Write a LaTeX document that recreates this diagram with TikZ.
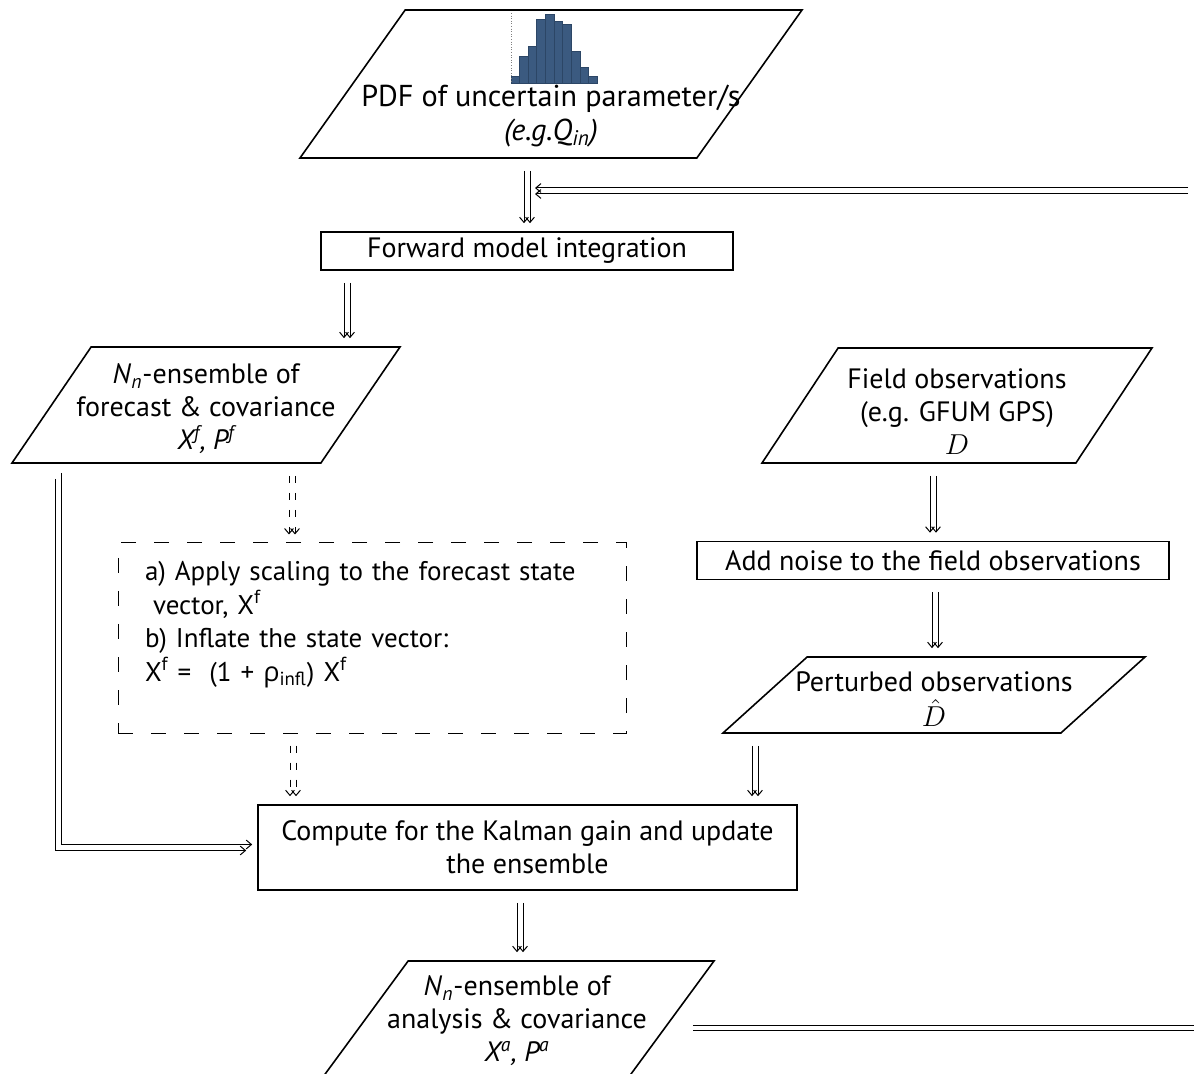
\documentclass[tikz,border=0pt]{standalone}
\usepackage{fontspec}
\setmainfont{PT Sans}
\newfontfamily\grkfont{Open Sans}
\usetikzlibrary{arrows.meta,positioning,shapes.geometric}
\definecolor{histbar}{HTML}{3B5A80}
\definecolor{histedge}{HTML}{2C4666}

\begin{document}
\begin{tikzpicture}[x=.5pt,y=-.5pt,font=\fontsize{14}{16.5}\selectfont,
box/.style={draw,line width=.8pt,minimum width=#1,minimum height=19pt,inner sep=2pt,align=center},
para/.style 2 args={trapezium,trapezium stretches body,trapezium left angle=#1,trapezium right angle=#2,draw,line width=.8pt,inner sep=1pt,text depth=0pt},
tip/.style={-{Straight Barb[length=2.6pt,width=4.4pt]},line width=.5pt,shorten <=6pt,shorten >=4pt},
dashlink/.style={dash pattern=on 3.5pt off 5pt},
twin/.style 2 args={preaction={draw,tip,transform canvas={xshift=-#1,yshift=-#2}},postaction={draw,tip,transform canvas={xshift=#1,yshift=#2}}},
dtwin/.style 2 args={preaction={draw,tip,dashlink,transform canvas={xshift=-#1,yshift=-#2}},postaction={draw,tip,dashlink,transform canvas={xshift=#1,yshift=#2}}},
pair/.style={draw,line width=.5pt,double distance=2.4pt}]
\clip (0,0) rectangle (1194,1074);

% input distribution
\node[para={54.6}{125.4},minimum width=251pt,text height=72pt] (pdf) at (551,84) {};
\foreach \h [count=\i from 0] in {76,56,46,19,14,21,24,51,67,76}
  \filldraw[fill=histbar,draw=histedge,line width=.2pt] (510.7+8.66*\i,83) rectangle ++(8.66,\h-83);
\draw[gray,densely dotted,line width=.3pt] (511,13) -- (511,83);
\node[align=center,font=\fontsize{15.1}{17}\selectfont] (pdftext) at (551,116) {PDF of uncertain parameter/s\\\textit{(e.g.Q\textsubscript{in})}};

\node[box=206pt] (fwd) at (527,251) {Forward model integration};

% ensemble and observations
\node[para={55.7}{124.3},minimum width=194pt,text height=56pt] (forecast) at (206,405) {};
\node[align=center] (forecasttext) at ([yshift=-2pt]forecast.center)
 {\textit{N}\textsubscript{\textit{n}}-ensemble of\\forecast \& covariance\\\textit{X\textsuperscript{f}, P\textsuperscript{f}}};
\node[para={56.5}{123.5},minimum width=195pt,text height=55.5pt] (field) at (957,405.5) {};
\node[align=center] (fieldtext) at ([yshift=-3pt]field.center) {Field observations\\(e.g. GFUM GPS)\\$D$};
\node[draw,dash pattern=on 7.5pt off 9pt,line width=.5pt,minimum height=95pt,inner xsep=13.5pt,text width=227pt,align=left,font=\fontsize{13.5}{16.8}\selectfont] (scaling) at (372,638)
 {a) Apply scaling to the forecast state\\\hspace{.3em}vector, X\textsuperscript{f}\\b) Inflate the state vector:\\X\textsuperscript{f} = \ (1 + {\grkfont ρ}\textsubscript{infl}) X\textsuperscript{f}\\~};
\node[box=236pt] (noise) at (933,560.5) {Add noise to the field observations};
\node[para={42.1}{137.9},minimum width=211pt,text height=36pt] (perturbed) at (934,695) {};
\node[align=center] (perturbedtext) at ([yshift=-2pt]perturbed.center) {Perturbed observations\\[1pt]$\hat{D}$};
\node[box=269.5pt,minimum height=42.5pt] (compute) at (527.5,847.5) {Compute for the Kalman gain and update\\the ensemble};
\node[para={53.7}{126.3},minimum width=197pt,text height=58pt] (analysis) at (517,1021) {};
\node[align=center] (analysistext) at (analysis.center)
 {\textit{N}\textsubscript{\textit{n}}-ensemble of\\analysis \& covariance\\\textit{X\textsuperscript{a}, P\textsuperscript{a}}};

\coordinate (inR) at (1200,191);
\coordinate (outR) at (1200,1028);

% connectors
\path[twin={1.5pt}{0pt}] (fwd.north |- pdf.south) -- (fwd.north);
\path[twin={0pt}{1.5pt}] (inR) -- (fwd.north |- inR);
\path[twin={1.5pt}{0pt}] (347,0 |- fwd.south) -- (347,0 |- forecast.north);
\path[dtwin={1.5pt}{0pt}] (292,0 |- forecast.south) -- (292,0 |- scaling.north);
\path[dtwin={1.5pt}{0pt}] (293,0 |- scaling.south) -- (293,0 |- compute.north);
\path[twin={1.5pt}{1.5pt}] (58,0 |- forecast.south) |- (compute.west);
\path[twin={1.5pt}{0pt}] (noise.north |- field.south) -- (noise.north);
\path[twin={1.5pt}{0pt}] (935,0 |- noise.south) -- (935,0 |- perturbed.north);
\path[twin={1.5pt}{0pt}] (755,0 |- perturbed.south) -- (755,0 |- compute.north);
\path[twin={1.5pt}{0pt}] (520,0 |- compute.south) -- (520,0 |- analysis.north);
\draw[pair,shorten <=11pt] (analysis.east |- outR) -- (outR);
\end{tikzpicture}
\end{document}
